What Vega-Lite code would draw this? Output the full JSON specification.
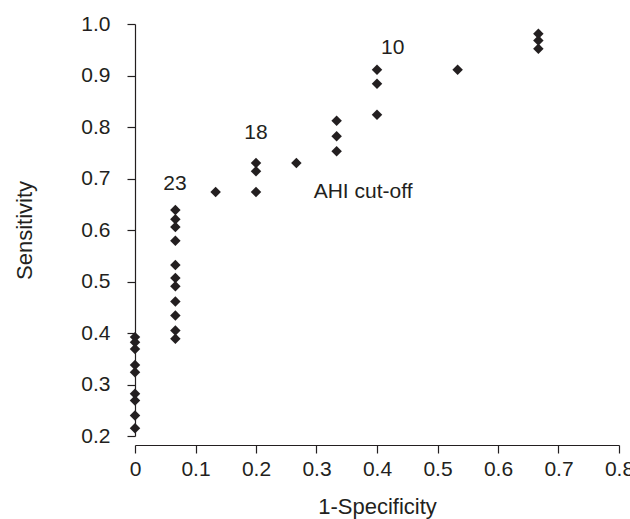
{
  "$schema": "https://vega.github.io/schema/vega-lite/v6.json",
  "width": 484,
  "height": 412,
  "autosize": {"type": "none"},
  "padding": {"left": 135, "top": 24, "right": 11, "bottom": 83},
  "background": "white",
  "config": {
    "view": {"stroke": null},
    "font": "Liberation Sans",
    "axis": {
      "grid": false,
      "domainColor": "#231f20",
      "tickColor": "#231f20",
      "labelColor": "#231f20",
      "titleColor": "#231f20",
      "labelFont": "Liberation Sans",
      "titleFont": "Liberation Sans",
      "labelFontSize": 21,
      "titleFontSize": 22,
      "titleFontWeight": "normal",
      "domainWidth": 1.2,
      "tickWidth": 1.2,
      "tickSize": 8
    }
  },
  "datasets": {
    "points": [
      {"fpr": 0, "sens": 0.392}, {"fpr": 0, "sens": 0.382}, {"fpr": 0, "sens": 0.369},
      {"fpr": 0, "sens": 0.338}, {"fpr": 0, "sens": 0.324}, {"fpr": 0, "sens": 0.282},
      {"fpr": 0, "sens": 0.269}, {"fpr": 0, "sens": 0.240}, {"fpr": 0, "sens": 0.215},
      {"fpr": 0.0667, "sens": 0.639}, {"fpr": 0.0667, "sens": 0.621}, {"fpr": 0.0667, "sens": 0.606},
      {"fpr": 0.0667, "sens": 0.579}, {"fpr": 0.0667, "sens": 0.532}, {"fpr": 0.0667, "sens": 0.507},
      {"fpr": 0.0667, "sens": 0.491}, {"fpr": 0.0667, "sens": 0.461}, {"fpr": 0.0667, "sens": 0.434},
      {"fpr": 0.0667, "sens": 0.405}, {"fpr": 0.0667, "sens": 0.389},
      {"fpr": 0.1333, "sens": 0.674},
      {"fpr": 0.2, "sens": 0.674}, {"fpr": 0.2, "sens": 0.714}, {"fpr": 0.2, "sens": 0.730},
      {"fpr": 0.2667, "sens": 0.730},
      {"fpr": 0.3333, "sens": 0.753}, {"fpr": 0.3333, "sens": 0.782}, {"fpr": 0.3333, "sens": 0.812},
      {"fpr": 0.4, "sens": 0.824}, {"fpr": 0.4, "sens": 0.884}, {"fpr": 0.4, "sens": 0.911},
      {"fpr": 0.5333, "sens": 0.911},
      {"fpr": 0.6667, "sens": 0.952}, {"fpr": 0.6667, "sens": 0.968}, {"fpr": 0.6667, "sens": 0.981}
    ],
    "labels": [
      {"fpr": 0.066, "sens": 0.689, "label": "23"},
      {"fpr": 0.2, "sens": 0.789, "label": "18"},
      {"fpr": 0.426, "sens": 0.954, "label": "10"},
      {"fpr": 0.377, "sens": 0.673, "label": "AHI cut-off"}
    ]
  },
  "layer": [
    {
      "data": {"name": "points"},
      "mark": {"type": "point", "shape": "diamond", "filled": true, "size": 110, "color": "#231f20", "opacity": 1},
      "encoding": {
        "x": {
          "field": "fpr", "type": "quantitative",
          "scale": {"domain": [0, 0.8], "nice": false, "zero": false},
          "axis": {"title": "1-Specificity", "values": [0, 0.1, 0.2, 0.3, 0.4, 0.5, 0.6, 0.7, 0.8],
                   "labelExpr": "datum.value == 0 ? '0' : format(datum.value, '.1f')",
                   "offset": 9, "labelPadding": 5, "titlePadding": 17, "labelFlush": false}
        },
        "y": {
          "field": "sens", "type": "quantitative",
          "scale": {"domain": [0.2, 1.0], "nice": false, "zero": false},
          "axis": {"title": "Sensitivity", "values": [0.2, 0.3, 0.4, 0.5, 0.6, 0.7, 0.8, 0.9, 1.0],
                   "format": ".1f", "labelPadding": 17, "titlePadding": 44, "labelFlush": false}
        }
      }
    },
    {
      "data": {"name": "labels"},
      "mark": {"type": "text", "fontSize": 21, "color": "#231f20", "align": "center", "baseline": "middle", "font": "Liberation Sans"},
      "encoding": {
        "x": {"field": "fpr", "type": "quantitative"},
        "y": {"field": "sens", "type": "quantitative"},
        "text": {"field": "label"}
      }
    }
  ]
}
